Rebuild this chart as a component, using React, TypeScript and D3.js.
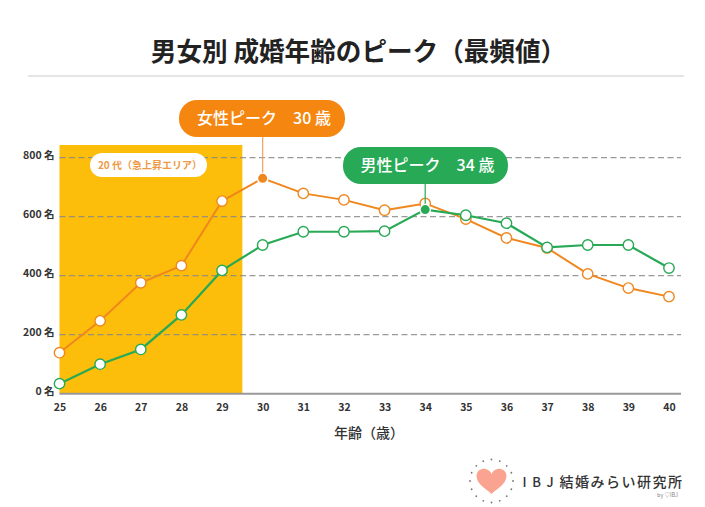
import React, { useEffect, useRef } from "react";
import * as d3 from "d3";

const ages = [25, 26, 27, 28, 29, 30, 31, 32, 33, 34, 35, 36, 37, 38, 39, 40];
const women = [139, 247, 376, 434, 653, 730, 679, 657, 622, 645, 592, 528, 494, 406, 358, 329];
const men = [34, 100, 150, 267, 418, 504, 549, 549, 551, 624, 605, 578, 496, 504, 504, 426];
const yTicks = [0, 200, 400, 600, 800];

const ORANGE = "#F0871E";
const ORANGE_BOX = "#F5860F";
const GREEN = "#27A956";
const FONT = "'Noto Sans CJK JP', 'Noto Sans', sans-serif";

const x = d3.scaleLinear().domain([25, 40]).range([59.5, 669]);
const y = d3.scaleLinear().domain([0, 800]).range([393.7, 157.7]);

export default function App() {
    const ref = useRef<SVGSVGElement>(null);

    useEffect(() => {
        const svg = d3.select(ref.current);
        svg.selectAll("*").remove();
        svg.attr("font-family", FONT);

        // title
        svg.append("text")
            .attr("x", 358.5)
            .attr("y", 61)
            .attr("text-anchor", "middle")
            .attr("font-size", 25.6)
            .attr("font-weight", 700)
            .attr("fill", "#222")
            .text("男女別 成婚年齢のピーク（最頻値）");
        svg.append("line")
            .attr("x1", 28).attr("x2", 684)
            .attr("y1", 76).attr("y2", 76)
            .attr("stroke", "#dcdcdc")
            .attr("stroke-width", 1.6);

        // 20s band
        svg.append("rect")
            .attr("x", x(25))
            .attr("y", 145)
            .attr("width", x(29.5) - x(25))
            .attr("height", y(0) - 145)
            .attr("fill", "#FDBD0B");

        // grid
        const yAxis = svg.append("g")
            .attr("transform", `translate(${x(25)},0)`)
            .call(d3.axisLeft(y).tickValues(yTicks).tickSize(0).tickPadding(5).tickFormat((d) => `${d} 名`));
        yAxis.select(".domain").remove();
        yAxis.selectAll("text")
            .attr("font-family", FONT)
            .attr("font-size", 10.5)
            .attr("font-weight", 700)
            .attr("fill", "#333")
            .attr("dy", "0.12em");

        svg.append("g")
            .selectAll("line")
            .data(yTicks.filter((d) => d > 0))
            .join("line")
            .attr("x1", x(25))
            .attr("x2", x(40) + 12)
            .attr("y1", (d) => y(d))
            .attr("y2", (d) => y(d))
            .attr("stroke", "#888")
            .attr("stroke-opacity", 0.85)
            .attr("stroke-width", 1.3)
            .attr("stroke-dasharray", "6 3.5");
        svg.append("line")
            .attr("x1", x(25))
            .attr("x2", x(40) + 12)
            .attr("y1", y(0))
            .attr("y2", y(0))
            .attr("stroke", "#999")
            .attr("stroke-width", 2);

        const xAxis = svg.append("g")
            .attr("transform", `translate(0,${y(0)})`)
            .call(d3.axisBottom(x).tickValues(ages).tickSize(0).tickPadding(10).tickFormat(d3.format("d")));
        xAxis.select(".domain").remove();
        xAxis.selectAll("text")
            .attr("font-family", FONT)
            .attr("font-size", 10.5)
            .attr("font-weight", 700)
            .attr("fill", "#333");

        svg.append("text")
            .attr("x", 369)
            .attr("y", 438)
            .attr("text-anchor", "middle")
            .attr("font-size", 14)
            .attr("font-weight", 500)
            .attr("fill", "#333")
            .text("年齢（歳）");

        // band label
        svg.append("rect")
            .attr("x", 90).attr("y", 153)
            .attr("width", 117).attr("height", 24)
            .attr("rx", 12)
            .attr("fill", "#fff");
        svg.append("text")
            .attr("x", 150)
            .attr("y", 168.5)
            .attr("text-anchor", "middle")
            .attr("font-size", 10)
            .attr("font-weight", 700)
            .attr("fill", "#EE9A45")
            .text("20 代（急上昇エリア）");

        const line = d3.line<number>().x((_, i) => x(ages[i])).y((d) => y(d));

        // peak callouts, drawn under the series so the markers stay on top
        const callout = (peak: number, val: number, left: number, top: number, w: number, color: string, stem: string, label: string) => {
            svg.append("line")
                .attr("x1", x(peak)).attr("x2", x(peak))
                .attr("y1", top + 30).attr("y2", y(val))
                .attr("stroke", stem)
                .attr("stroke-width", 1.2);
            svg.append("rect")
                .attr("x", left).attr("y", top)
                .attr("width", w).attr("height", 37)
                .attr("rx", 18)
                .attr("fill", color);
            svg.append("text")
                .attr("x", left + w / 2 + 2)
                .attr("y", top + 24)
                .attr("text-anchor", "middle")
                .attr("font-size", 16)
                .attr("font-weight", 500)
                .attr("fill", "#fff")
                .text(label);
        };

        const series = (vals: number[], color: string, peakAge: number, width: number) => {
            svg.append("path")
                .attr("d", line(vals))
                .attr("fill", "none")
                .attr("stroke", color)
                .attr("stroke-width", width);
            svg.append("g")
                .selectAll("circle")
                .data(vals)
                .join("circle")
                .attr("cx", (_, i) => x(ages[i]))
                .attr("cy", (d) => y(d))
                .attr("r", 5.2)
                .attr("fill", (_, i) => (ages[i] === peakAge ? color : "#fff"))
                .attr("stroke", (_, i) => (ages[i] === peakAge ? "#fff" : color))
                .attr("stroke-width", 1.4);
        };

        callout(30, women[5], 179, 100, 166, ORANGE_BOX, "#EFA35A", "女性ピーク　30 歳");
        series(women, ORANGE, 30, 2);
        callout(34, men[9], 343, 147, 165, GREEN, GREEN, "男性ピーク　34 歳");
        series(men, GREEN, 34, 2.2);

        // logo
        const logo = svg.append("g").attr("transform", "translate(491.5,483)");
        logo.selectAll("circle")
            .data(d3.range(16))
            .join("circle")
            .attr("cx", (d) => 21.5 * Math.cos((d / 16) * 2 * Math.PI))
            .attr("cy", (d) => 21.5 * Math.sin((d / 16) * 2 * Math.PI) - 2)
            .attr("r", 0.9)
            .attr("fill", "#777");
        logo.append("path")
            .attr("d", "M0,11 C-5,6 -15,1 -15,-7 C-15,-13 -9,-15 -6,-14 C-3,-13.5 -1,-11.5 0,-9 C1,-11.5 3,-13.5 6,-14 C9,-15 15,-13 15,-7 C15,1 5,6 0,11 Z")
            .attr("fill", "#FBA391");
        const brand = svg.append("text")
            .attr("x", 522.5)
            .attr("y", 486.5)
            .attr("font-weight", 500)
            .attr("fill", "#333");
        brand.append("tspan")
            .attr("font-size", 13)
            .attr("letter-spacing", 5.8)
            .text("IBJ");
        brand.append("tspan")
            .attr("font-size", 14)
            .attr("letter-spacing", 1.5)
            .text("結婚みらい研究所");
        svg.append("text")
            .attr("x", 657)
            .attr("y", 497)
            .attr("font-size", 5.5)
            .attr("fill", "#888")
            .text("by ♡IBJ");
    }, []);

    return (
        <svg
            ref={ref}
            width={705}
            height={507}
            style={{ position: "absolute", left: 0, top: 0, background: "#fff" }}
        />
    );
}
